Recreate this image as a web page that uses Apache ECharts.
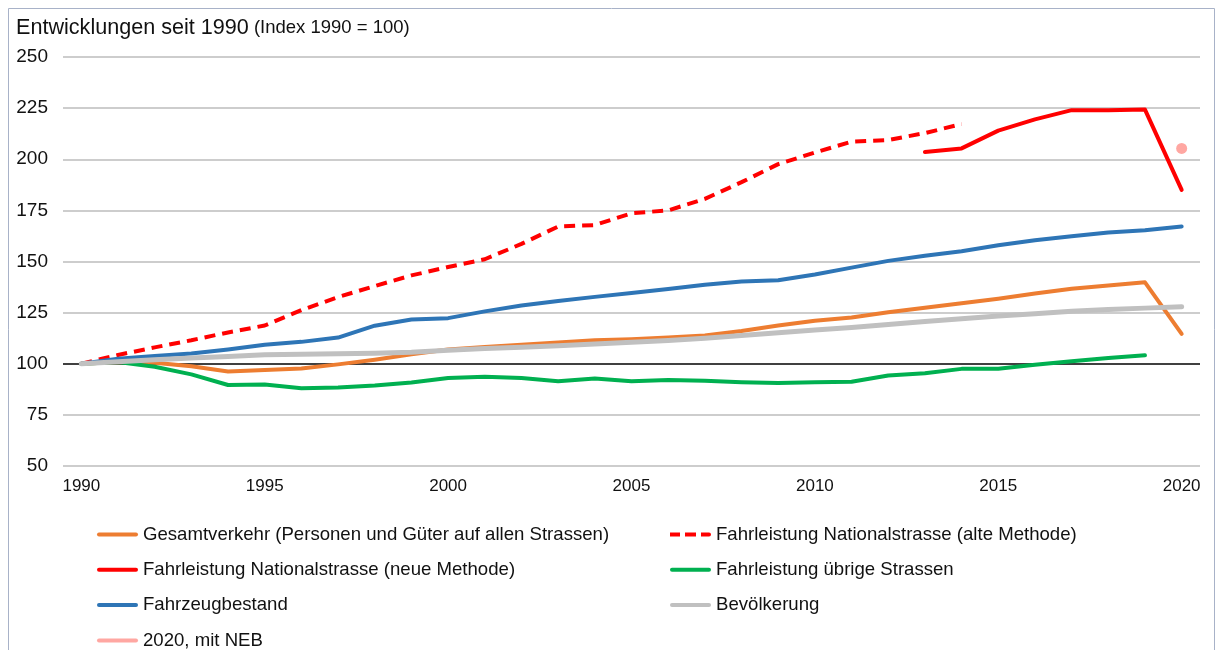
<!DOCTYPE html>
<html>
<head>
<meta charset="utf-8">
<script src="https://cdn.jsdelivr.net/npm/echarts@6/dist/echarts.min.js"></script>
<style>
html,body{margin:0;padding:0;background:#fff;}
#chart{width:1216px;height:650px;}
</style>
</head>
<body>
<div id="chart"></div>
<script>
const years = ['1990','1991','1992','1993','1994','1995','1996','1997','1998','1999','2000','2001','2002','2003','2004','2005','2006','2007','2008','2009','2010','2011','2012','2013','2014','2015','2016','2017','2018','2019','2020'];
const yTicks = [50, 250, 25];

const gesamtverkehr = [100, 100.8, 100.5, 98.8, 96.2, 96.9, 97.7, 99.7, 102, 104.6, 107, 108.2, 109.3, 110.4, 111.5, 112, 112.8, 113.8, 116, 118.7, 121, 122.6, 125.2, 127.4, 129.6, 131.8, 134.4, 136.7, 138.3, 139.8, 114.6];
const nationalAlt = [100, 104.3, 108, 111.5, 115.3, 118.7, 126.2, 132.6, 138, 143.2, 147.3, 151.1, 158.6, 167.1, 167.8, 173.6, 175, 180.6, 188.8, 197.6, 203.3, 208.6, 209.4, 212.8, 217.2, null, null, null, null, null, null];
const nationalNeu = [null, null, null, null, null, null, null, null, null, null, null, null, null, null, null, null, null, null, null, null, null, null, null, 203.5, 205.3, 214, 219.5, 224, 224, 224.3, 185];
const uebrige = [100, 100.8, 98.5, 94.8, 89.6, 89.8, 88, 88.4, 89.4, 90.8, 93, 93.6, 93, 91.5, 92.8, 91.4, 92, 91.7, 91, 90.6, 90.9, 91.2, 94.3, 95.4, 97.5, 97.6, 99.5, 101.2, 102.8, 104.1, null];
const fahrzeugbestand = [100, 102.4, 103.8, 105, 107, 109.3, 110.7, 112.8, 118.6, 121.6, 122.3, 125.6, 128.5, 130.7, 132.7, 134.6, 136.5, 138.6, 140.2, 140.8, 143.6, 147, 150.3, 152.8, 155, 157.9, 160.4, 162.3, 164.2, 165.3, 167.1];
const bevoelkerung = [100, 101, 102, 102.8, 103.6, 104.4, 104.6, 104.9, 105.1, 105.6, 106.6, 107.4, 108.1, 108.8, 109.6, 110.5, 111.4, 112.5, 113.8, 115.2, 116.5, 117.7, 119.2, 120.7, 122, 123.3, 124.5, 125.7, 126.5, 127.2, 127.9];
const mitNEB = [null, null, null, null, null, null, null, null, null, null, null, null, null, null, null, null, null, null, null, null, null, null, null, null, null, null, null, null, null, null, 205.3];

const names = [
  'Gesamtverkehr (Personen und Güter auf allen Strassen)',
  'Fahrleistung Nationalstrasse (alte Methode)',
  'Fahrleistung Nationalstrasse (neue Methode)',
  'Fahrleistung übrige Strassen',
  'Fahrzeugbestand',
  'Bevölkerung',
  '2020, mit NEB'
];
const colors = ['#ED7D31', '#FF0000', '#FF0000', '#00B050', '#2E75B6', '#C0C0C0', '#FFA7A2'];

const FONT = "'Liberation Sans', Arial, sans-serif";
const gridCol = '#BCBCBC';
const splitColors = [gridCol, gridCol, '#000000', gridCol, gridCol, gridCol, gridCol, gridCol, gridCol];

const solidIcon = 'path://M2,0 L39,0 A2,2 0 0 1 39,4 L2,4 A2,2 0 0 1 2,0 Z';
const dashIcon = 'path://M0,0 L10,0 L10,4 L0,4 Z M15,0 L26,0 L26,4 L15,4 Z M31,0 L39,0 A2,2 0 0 1 39,4 L31,4 Z';

function lineSeries(i, data, extra) {
  return Object.assign({
    name: names[i],
    type: 'line',
    data: data,
    symbol: 'none',
    color: colors[i],
    lineStyle: { color: colors[i], width: 4, cap: 'round', join: 'round' },
    connectNulls: false,
    animation: false,
    z: 2 + i
  }, extra || {});
}

const legendText = { fontSize: 18.6, lineHeight: 18, color: '#111', fontFamily: FONT };

const chart = echarts.init(document.getElementById('chart'), null, { renderer: 'canvas' });
chart.setOption({
  backgroundColor: '#fff',
  animation: false,
  textStyle: { fontFamily: FONT },
  graphic: [{
    type: 'rect',
    shape: { x: 8.5, y: 8.5, width: 1206, height: 700 },
    style: { fill: 'none', stroke: '#A8B2C8', lineWidth: 1 },
    silent: true,
    z: -10
  }],
  title: {
    left: 11,
    top: 12,
    text: '{a|Entwicklungen seit 1990} {b|(Index 1990 = 100)}',
    textStyle: {
      fontWeight: 'normal',
      rich: {
        a: { fontSize: 21.6, color: '#111', fontFamily: FONT, fontWeight: 'normal' },
        b: { fontSize: 18.5, color: '#111', fontFamily: FONT, fontWeight: 'normal' }
      }
    }
  },
  grid: { left: 63, right: 16, top: 57, bottom: 184, containLabel: false },
  xAxis: {
    type: 'category',
    data: years,
    boundaryGap: true,
    axisLine: { show: false },
    axisTick: { show: false },
    splitLine: { show: false },
    axisLabel: {
      interval: 4,
      margin: 12,
      fontSize: 17,
      color: '#111',
      fontFamily: FONT
    }
  },
  yAxis: {
    type: 'value',
    min: yTicks[0],
    max: yTicks[1],
    interval: yTicks[2],
    axisLine: { show: false },
    axisTick: { show: false },
    axisLabel: { margin: 15, fontSize: 19, color: '#111', fontFamily: FONT },
    splitLine: { show: true, lineStyle: { color: splitColors, width: 1.5 } }
  },
  legend: [{
    orient: 'vertical',
    left: 97,
    top: 525,
    padding: 0,
    itemWidth: 41,
    itemHeight: 14,
    itemGap: 16.3,
    textStyle: legendText,
    data: [
      { name: names[0], icon: solidIcon },
      { name: names[2], icon: solidIcon },
      { name: names[4], icon: solidIcon },
      { name: names[6], icon: solidIcon }
    ]
  }, {
    orient: 'vertical',
    left: 670,
    top: 525,
    padding: 0,
    itemWidth: 41,
    itemHeight: 14,
    itemGap: 16.3,
    textStyle: legendText,
    data: [
      { name: names[1], icon: dashIcon },
      { name: names[3], icon: solidIcon },
      { name: names[5], icon: solidIcon }
    ]
  }],
  series: [
    lineSeries(0, gesamtverkehr),
    lineSeries(1, nationalAlt, { lineStyle: { color: colors[1], width: 4, type: [11, 7], cap: 'butt' } }),
    lineSeries(2, nationalNeu),
    lineSeries(3, uebrige),
    lineSeries(4, fahrzeugbestand),
    lineSeries(5, bevoelkerung, { lineStyle: { color: colors[5], width: 5, cap: 'round', join: 'round' } }),
    lineSeries(6, mitNEB, { symbol: 'circle', symbolSize: 11, showSymbol: true, itemStyle: { color: colors[6] } })
  ]
});
</script>
</body>
</html>
